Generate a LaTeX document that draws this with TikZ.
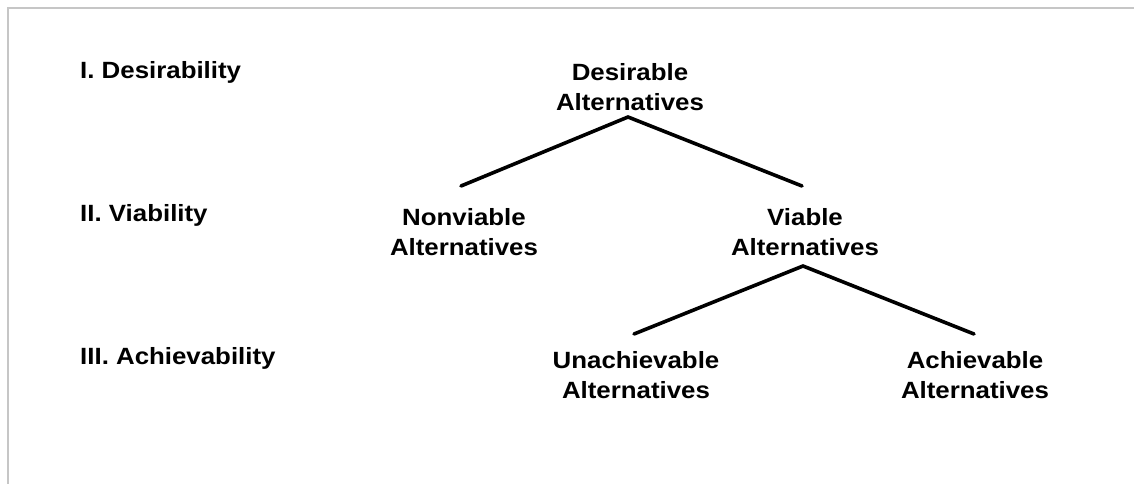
\documentclass[tikz,border=0pt]{standalone}
\usepackage{fontspec}
\setmainfont{Liberation Sans}[FakeStretch=1.1]
\begin{document}
\begin{tikzpicture}[x=1pt,y=-1pt,
  lbl/.style={font=\fontsize{23.5}{30}\selectfont\bfseries, inner sep=0pt, align=center},
  lvl/.style={font=\fontsize{23.5}{30}\selectfont\bfseries, inner sep=0pt, anchor=west},
  conn/.style={line width=3.6pt, line cap=round, line join=miter}]
\useasboundingbox (0,0) rectangle (1134,484);
\fill[white] (0,0) rectangle (1134,484);
\draw[line width=2.5pt, color={rgb,255:red,198;green,198;blue,198}] (8,484) -- (8,8) -- (1134,8);

\node[lvl] (l1) at (80,72) {I. Desirability};
\node[lvl] (l2) at (80,215) {II. Viability};
\node[lvl] (l3) at (80,358) {III. Achievability};

\node[lbl] (des) at (630,87) {Desirable\\Alternatives};
\node[lbl] (nonv) at (464,232) {Nonviable\\Alternatives};
\node[lbl] (via) at (805,232) {Viable\\Alternatives};
\node[lbl] (unach) at (636,375) {Unachievable\\Alternatives};
\node[lbl] (ach) at (975,375) {Achievable\\Alternatives};

\coordinate (desA) at (628,117);
\coordinate (nonvE) at (461,186);
\coordinate (viaE) at (802,186);
\coordinate (viaA) at (803,266);
\coordinate (unachE) at (634,334);
\coordinate (achE) at (974,334);

\draw[conn] (nonvE) -- (desA) -- (viaE);
\draw[conn] (unachE) -- (viaA) -- (achE);
\end{tikzpicture}
\end{document}
